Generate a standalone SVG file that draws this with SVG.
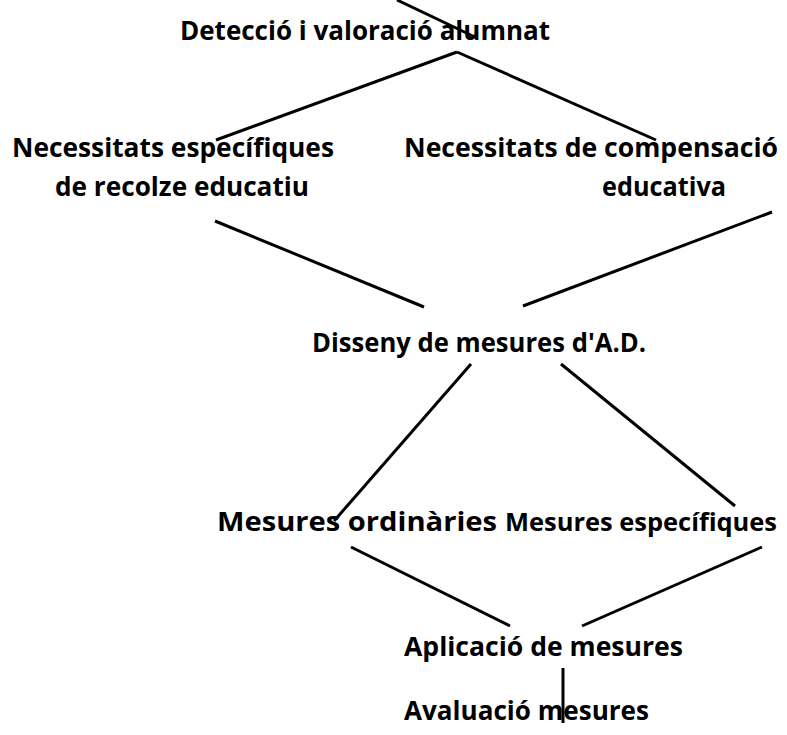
<svg xmlns="http://www.w3.org/2000/svg" width="787" height="735" viewBox="0 0 787 735">
<style>
text{font-family:"Open Sans","Noto Sans","Liberation Sans",sans-serif;font-weight:bold;font-size:27px;fill:#000}
.c line{stroke:#000;stroke-width:3;stroke-linecap:butt}
</style>
<rect width="787" height="735" fill="#fff"/>
<g id="n1"><text x="180" y="40" textLength="370" lengthAdjust="spacingAndGlyphs">Detecció i valoració alumnat</text></g>
<g id="n2"><text x="12" y="157" textLength="322" lengthAdjust="spacingAndGlyphs">Necessitats específiques</text><text x="55" y="196" textLength="254" lengthAdjust="spacingAndGlyphs">de recolze educatiu</text></g>
<g id="n3"><text x="404" y="157" textLength="374" lengthAdjust="spacingAndGlyphs">Necessitats de compensació</text><text x="602" y="196" textLength="124" lengthAdjust="spacingAndGlyphs">educativa</text></g>
<g id="n4"><text x="312" y="352" textLength="334" lengthAdjust="spacingAndGlyphs">Disseny de mesures d'A.D.</text></g>
<g id="n5"><text x="217" y="531" textLength="280" lengthAdjust="spacingAndGlyphs">Mesures ordinàries</text></g>
<g id="n6"><text x="505" y="531" textLength="272" lengthAdjust="spacingAndGlyphs" style="font-size:25.5px">Mesures específiques</text></g>
<g id="n7"><text x="404" y="656" textLength="279" lengthAdjust="spacingAndGlyphs">Aplicació de mesures</text></g>
<g id="n8"><text x="404" y="720" textLength="245" lengthAdjust="spacingAndGlyphs">Avaluació mesures</text></g>
<g class="c" id="connectors">
<line x1="397" y1="0" x2="477" y2="38"/>
<line x1="457" y1="52" x2="216" y2="140"/>
<line x1="457" y1="52" x2="656" y2="140"/>
<line x1="215" y1="221" x2="424" y2="307"/>
<line x1="772" y1="212" x2="523" y2="306"/>
<line x1="471" y1="364" x2="334" y2="521"/>
<line x1="561" y1="364" x2="735" y2="506"/>
<line x1="351" y1="547" x2="510" y2="626"/>
<line x1="762" y1="547" x2="582" y2="626"/>
<line x1="563" y1="668" x2="563" y2="723"/>
</g>
</svg>
